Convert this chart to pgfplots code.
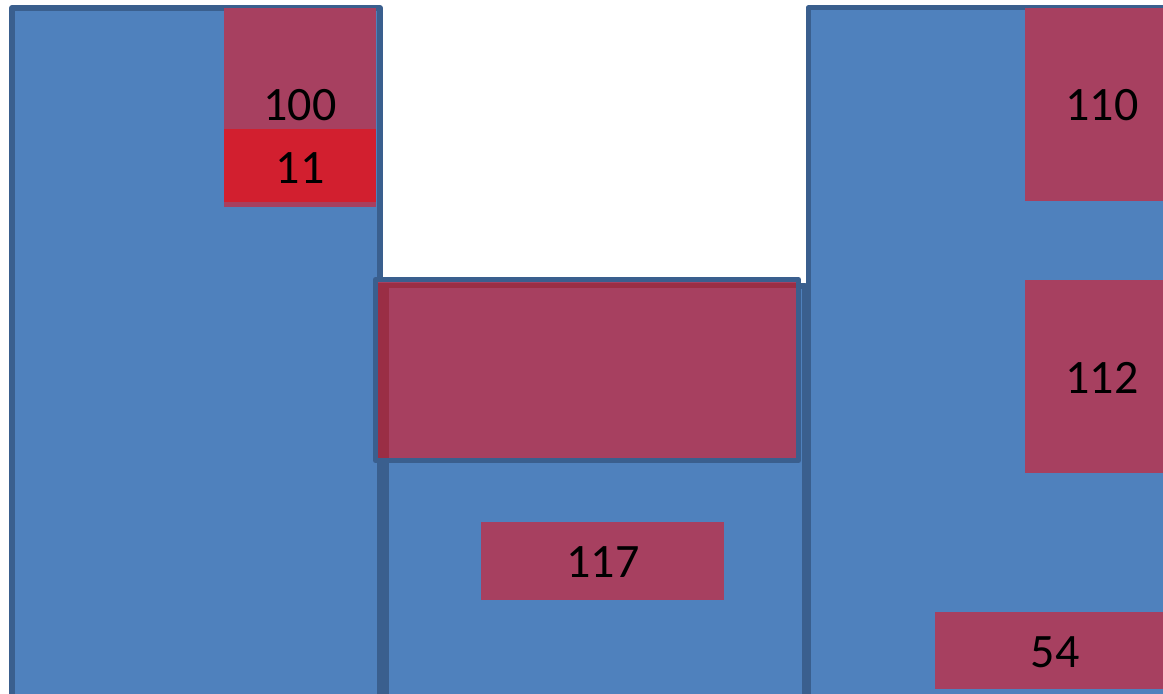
\documentclass[border=0pt]{standalone}
\usepackage{fontspec}
\setmainfont{Carlito}
\usepackage{pgfplots}
\pgfplotsset{compat=1.18}

\definecolor{boxblue}{HTML}{4F81BD}
\definecolor{edgeblue}{HTML}{3A5F8E}
\definecolor{boxred}{HTML}{A74060}
\definecolor{darkred}{HTML}{9A2E45}
\definecolor{brightred}{HTML}{D21F2F}

\begin{document}
\begin{tikzpicture}
\begin{axis}[
    hide axis,
    scale only axis,
    width=581.5pt, height=347pt,
    xmin=0, xmax=1163,
    ymin=0, ymax=694,
    y dir=reverse,
    clip=true,
    line join=round,
]
\coordinate (sw) at (rel axis cs:0,0);
\coordinate (ne) at (rel axis cs:1,1);

% big blue blocks
\addplot[fill=boxblue, draw=edgeblue, line width=3pt] coordinates {(12,8)(380,8)(380,697)(12,697)} -- cycle;
\addplot[fill=boxblue, draw=edgeblue, line width=3pt] coordinates {(385.5,286)(805,286)(805,697)(385.5,697)} -- cycle;
\addplot[fill=boxblue, draw=edgeblue, line width=2.5pt] coordinates {(808,8)(1200,8)(1200,697)(808,697)} -- cycle;

% red boxes, left column
\addplot[fill=boxred, draw=none] coordinates {(224,8)(376,8)(376,207)(224,207)} -- cycle;
\addplot[fill=brightred, draw=none] coordinates {(224,129)(376,129)(376,202)(224,202)} -- cycle;

% middle framed box
\addplot[fill=boxred, draw=none] coordinates {(376,280)(799,280)(799,461)(376,461)} -- cycle;
\addplot[fill=darkred, draw=none] coordinates {(378,283)(389,283)(389,460)(378,460)} -- cycle;
\addplot[fill=darkred, draw=none] coordinates {(378,283)(797,283)(797,288)(378,288)} -- cycle;
\addplot[draw=edgeblue, line width=2.5pt] coordinates {(375.5,279.5)(798.5,279.5)(798.5,460.5)(375.5,460.5)} -- cycle;

\addplot[fill=boxred, draw=none] coordinates {(481,522)(724,522)(724,600)(481,600)} -- cycle;

% red boxes, right column
\addplot[fill=boxred, draw=none] coordinates {(1025,8)(1170,8)(1170,201)(1025,201)} -- cycle;
\addplot[fill=boxred, draw=none] coordinates {(1025,280)(1170,280)(1170,473)(1025,473)} -- cycle;
\addplot[fill=boxred, draw=none] coordinates {(935,612)(1170,612)(1170,689)(935,689)} -- cycle;

\begin{scope}[every node/.style={font=\fontsize{24}{28}\selectfont, text=black, inner sep=0pt}]
\node at (axis cs:300,105) {100};
\node at (axis cs:300,168) {11};
\node at (axis cs:603,562) {117};
\node at (axis cs:1102,105) {110};
\node at (axis cs:1102,378) {112};
\node at (axis cs:1055,652) {54};
\end{scope}
\end{axis}
\pgfresetboundingbox
\path[use as bounding box] (sw) rectangle (ne);
\end{tikzpicture}
\end{document}
